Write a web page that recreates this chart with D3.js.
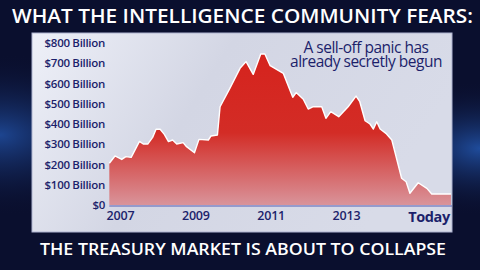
<!DOCTYPE html>
<html><head><meta charset="utf-8">
<script src="https://cdn.jsdelivr.net/npm/d3@7"></script>
<style>html,body{margin:0;padding:0;background:#0b1030;overflow:hidden}</style>
</head><body>
<script>
const years = [2006.69,2006.84,2007.02,2007.13,2007.27,2007.49,2007.59,2007.71,2007.84,2007.93,2008.04,2008.15,2008.26,2008.37,2008.48,2008.65,2008.74,2008.95,2009.07,2009.32,2009.39,2009.56,2009.63,2009.89,2010.16,2010.32,2010.51,2010.71,2010.82,2010.96,2011.31,2011.56,2011.65,2011.84,2011.97,2012.09,2012.33,2012.44,2012.57,2012.78,2013.03,2013.24,2013.34,2013.48,2013.61,2013.70,2013.79,2013.88,2014.05,2014.19,2014.45,2014.57,2014.67,2014.89,2015.12,2015.25,2015.76];
const values = [206,242,225,239,235,314,301,301,334,374,374,349,313,321,301,308,288,258,324,321,341,346,485,576,675,708,645,746,746,688,650,532,555,522,474,485,485,428,461,436,485,538,510,416,400,375,411,375,351,321,132,115,58,110,82,54,54];
const yTicks = [0,100,200,300,400,500,600,700,800];
const yTickLabels = ["$0","$100 Billion","$200 Billion","$300 Billion","$400 Billion","$500 Billion","$600 Billion","$700 Billion","$800 Billion"];
const xTicks = [2007,2009,2011,2013];
const todayYear = 2015.15;
const title = "WHAT THE INTELLIGENCE COMMUNITY FEARS:";
const subtitle = "THE TREASURY MARKET IS ABOUT TO COLLAPSE";
const note = ["A sell-off panic has","already secretly begun"];

const W=480,H=270;
const svg=d3.select("body").append("svg").attr("width",W).attr("height",H);
const defs=svg.append("defs");
const bg=defs.append("radialGradient").attr("id","bgL").attr("cx","0.0").attr("cy","0.5").attr("r","0.3");
bg.append("stop").attr("offset","0").attr("stop-color","#1d4590");
bg.append("stop").attr("offset","1").attr("stop-color","#0b1030").attr("stop-opacity",0);
const bgR=defs.append("radialGradient").attr("id","bgR").attr("cx","1").attr("cy","0.55").attr("r","0.25");
bgR.append("stop").attr("offset","0").attr("stop-color","#1f4c9c");
bgR.append("stop").attr("offset","1").attr("stop-color","#0b1030").attr("stop-opacity",0);
const pg=defs.append("linearGradient").attr("id","panel").attr("x1","0").attr("x2","1").attr("y1","0").attr("y2","0.3");
pg.append("stop").attr("offset","0").attr("stop-color","#eef0f8");
pg.append("stop").attr("offset","0.45").attr("stop-color","#d3d6e4");
pg.append("stop").attr("offset","1").attr("stop-color","#d8dbe8");
const ag=defs.append("linearGradient").attr("id","area").attr("x1","0").attr("x2","0").attr("gradientUnits","userSpaceOnUse").attr("y1",43).attr("y2",206);
ag.append("stop").attr("offset","0").attr("stop-color","#d6221c");
ag.append("stop").attr("offset","0.55").attr("stop-color","#d32c26");
ag.append("stop").attr("offset","1").attr("stop-color","#d9959c");

svg.append("rect").attr("width",W).attr("height",H).attr("fill","#0a0f2e");
svg.append("rect").attr("width",W).attr("height",H).attr("fill","url(#bgL)");
svg.append("rect").attr("width",W).attr("height",H).attr("fill","url(#bgR)");

// panel
svg.append("rect").attr("x",32).attr("y",33).attr("width",420).attr("height",199)
  .attr("fill","url(#panel)").attr("stroke","#aeb3d0").attr("stroke-width",1);

const x=d3.scaleLinear().domain([2007,2013]).range([121,347]);
const y=d3.scaleLinear().domain([0,800]).range([205,43]);
const data=years.map((t,i)=>({t,v:values[i]}));

const area=d3.area().x(d=>x(d.t)).y0(y(0)).y1(d=>y(d.v)).curve(d3.curveLinear);
const line=d3.line().x(d=>x(d.t)).y(d=>y(d.v));
svg.append("path").datum(data).attr("d",area).attr("fill","url(#area)");
svg.append("path").datum(data).attr("d",line).attr("fill","none").attr("stroke","#fff").attr("stroke-width",1.4).attr("stroke-linejoin","round");
svg.append("line").attr("x1",x(years[0])).attr("x2",452).attr("y1",y(0)+1).attr("y2",y(0)+1).attr("stroke","#7f86c4").attr("stroke-width",1.5);

const font="'Open Sans', 'Noto Sans', sans-serif";
const navy="#1c1f6b";
// y axis labels
const yAxis=d3.axisLeft(y).tickValues(yTicks).tickFormat((d,i)=>yTickLabels[i]).tickSize(0).tickPadding(0);
const ya=svg.append("g").attr("transform","translate(105,0)").call(yAxis);
ya.select(".domain").remove();
ya.selectAll("text").attr("fill",navy).attr("font-family",font).attr("font-size",11.5).attr("font-weight",600).attr("letter-spacing",-0.3);

// x axis labels
const xAxis=d3.axisBottom(x).tickValues(xTicks).tickFormat(d3.format("d")).tickSize(0).tickPadding(0);
const xa=svg.append("g").attr("transform","translate(-1,211)").call(xAxis);
xa.select(".domain").remove();
xa.selectAll("text").attr("fill",navy).attr("font-family",font).attr("font-size",12.5).attr("font-weight",600).attr("letter-spacing",-0.2);
svg.append("text").attr("x",x(todayYear)+1).attr("y",222).attr("text-anchor","middle").attr("fill",navy)
  .attr("font-family",font).attr("font-size",14.5).attr("font-weight",700).attr("letter-spacing",-0.4).text("Today");

// note
note.forEach((s,i)=>svg.append("text").attr("x",366).attr("y",52.5+i*14.5).attr("text-anchor","middle")
  .attr("fill",navy).attr("font-family",font).attr("font-size",15.5).attr("font-weight",400).attr("letter-spacing",-0.5).text(s));

// titles
svg.append("text").attr("x",12).attr("y",23).attr("fill","#fff").attr("font-family",font).attr("font-size",19.5)
  .attr("font-weight",600).attr("textLength",461).attr("lengthAdjust","spacingAndGlyphs").text(title);
svg.append("text").attr("x",40).attr("y",255).attr("fill","#fff").attr("font-family",font).attr("font-size",17)
  .attr("font-weight",600).attr("textLength",406).attr("lengthAdjust","spacingAndGlyphs").text(subtitle);
</script>
</body></html>
